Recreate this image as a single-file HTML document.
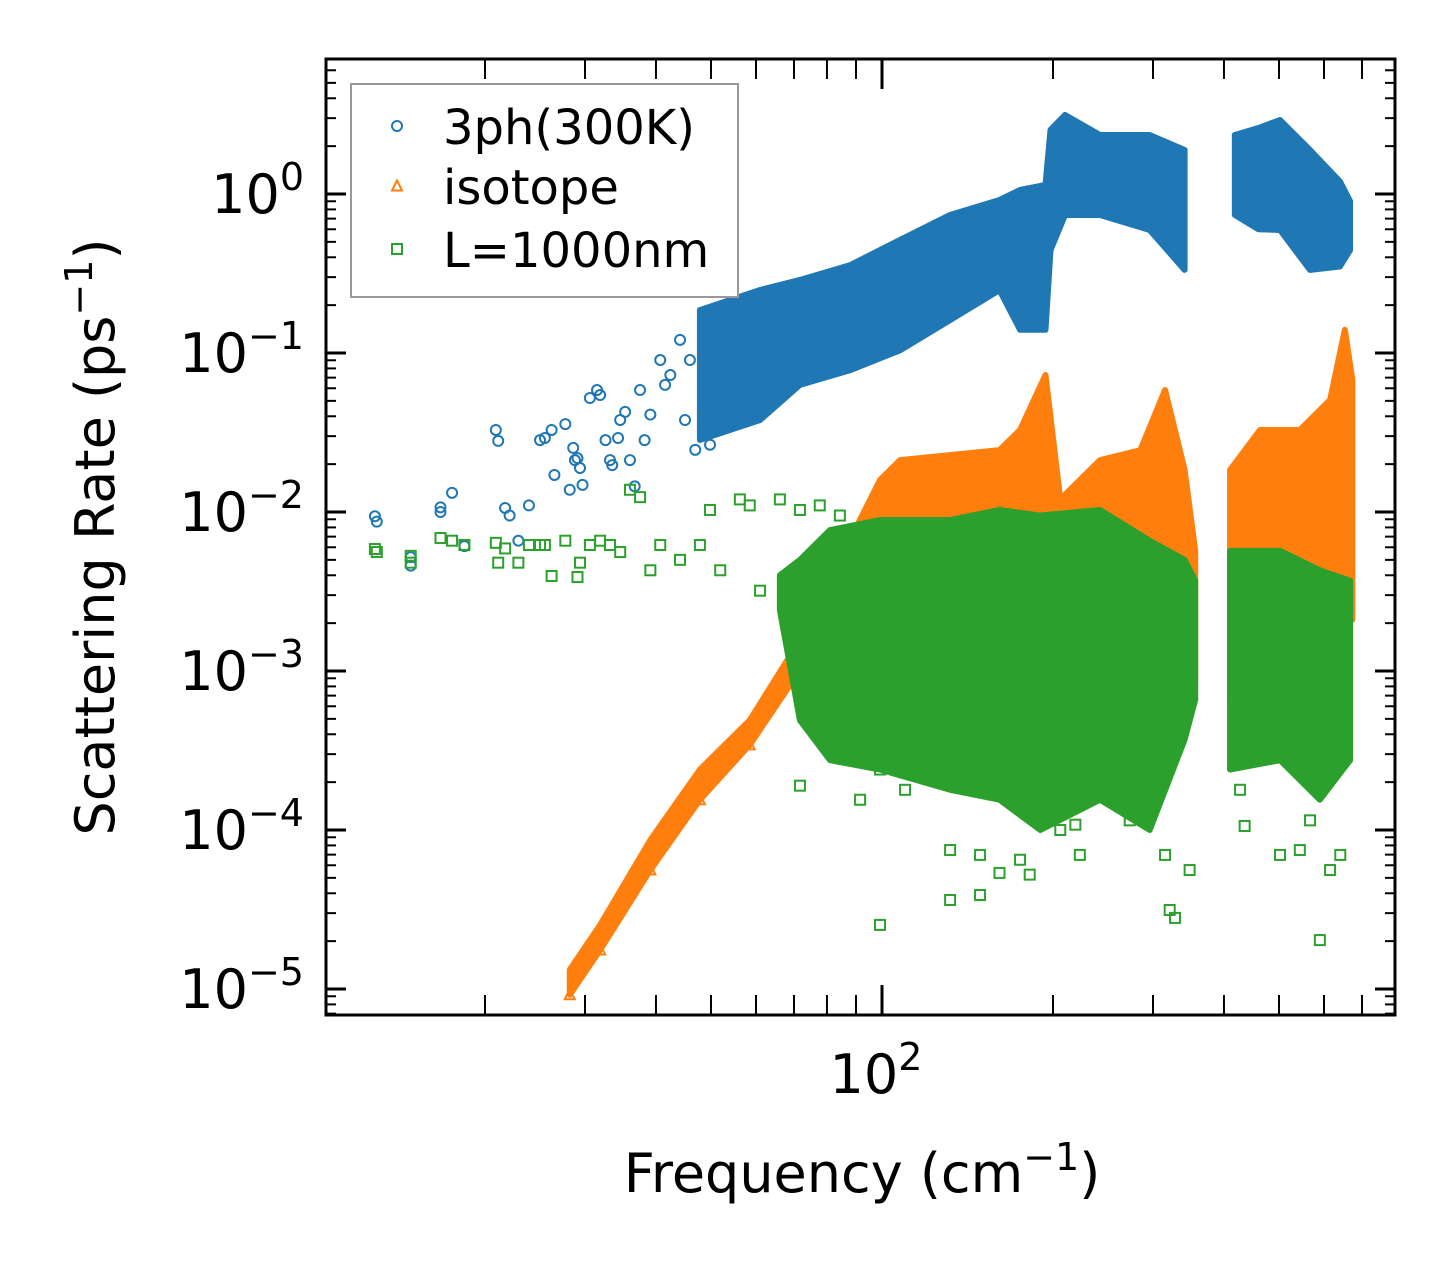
<!DOCTYPE html>
<html><head><meta charset="utf-8"><style>
body{margin:0;background:#fff}
svg text{font-family:"DejaVu Sans","Liberation Sans",sans-serif;fill:#000}
</style></head><body>
<svg id="chart" width="1455" height="1265" xmlns="http://www.w3.org/2000/svg">
<g id="plot"></g>
<g id="axes"></g>
</svg>
<script>
// ---- data (frequency cm^-1, rate ps^-1) ----
const blueSparseF=[12.8,12.9,14.8,14.8,16.7,16.7,17.5,18.4,20.9,21.1,21.7,22.1,22.9,23.9,25.0,25.5,26.2,26.5,27.7,28.2,28.6,28.8,29.1,29.4,29.7,30.6,31.5,31.9,32.6,33.2,33.5,34.3,34.6,35.3,36.0,36.7,37.5,38.2,39.1,40.7,41.5,42.4,44.1,45.0,45.9,46.9,49.8,50.8,51.9,54.0,56.2,61.0];
const blueSparseR=[0.0094,0.0087,0.0046,0.0052,0.0107,0.0100,0.0132,0.0061,0.0328,0.028,0.0106,0.0095,0.0066,0.0110,0.0283,0.0292,0.0328,0.0171,0.0357,0.0138,0.0253,0.0212,0.0218,0.0189,0.0148,0.0521,0.0585,0.0544,0.0283,0.0212,0.0197,0.0292,0.0379,0.0426,0.0212,0.0145,0.0585,0.0283,0.041,0.0903,0.063,0.0727,0.121,0.0379,0.0903,0.0246,0.0265,0.140,0.035,0.037,0.161,0.186];
const blueBandF=[47.8,61,71.7,87.9,107.6,131.8,161,175,194,198,210,242,296,341];
const blueBandHi=[0.186,0.249,0.288,0.357,0.514,0.738,0.917,1.06,1.14,2.53,3.14,2.35,2.35,1.89];
const blueBandLo=[0.0284,0.0379,0.063,0.078,0.104,0.161,0.249,0.14,0.14,0.444,0.738,0.738,0.594,0.333];
const blueBand2F=[418,460,502,567,640,667];
const blueBand2Hi=[2.35,2.6,2.92,1.89,1.2,0.9];
const blueBand2Lo=[0.738,0.6,0.594,0.333,0.35,0.444];
const orangeBandF=[28.2,31.9,39.1,47.8,58.5,71.7,81,89.6,99.2,107.6,131.8,161,175,194,206,242,285,315,341,356];
const orangeBandHi=[1.32e-5,2.53e-5,8.65e-5,2.4e-4,4.9e-4,1.57e-3,2.8e-3,0.0077,0.0159,0.0212,0.0228,0.0245,0.0328,0.0727,0.0120,0.0212,0.0245,0.0585,0.0184,0.0057];
const orangeBandLo=[9.2e-6,1.76e-5,5.6e-5,1.55e-4,3.43e-4,1.01e-3,1.57e-3,1.36e-3,1.36e-3,1.57e-3,1.57e-3,2.1e-3,1.57e-3,2.1e-3,1.57e-3,2.1e-3,1.57e-3,1.57e-3,1.17e-3,8.8e-4];
const orangeBand2F=[410,463,544,615,653,673];
const orangeBand2Hi=[0.0184,0.0328,0.0328,0.0506,0.140,0.068];
const orangeBand2Lo=[6.6e-4,2.1e-3,2.42e-3,2.8e-3,2.8e-3,2.1e-3];
const greenSparseF=[12.8,12.9,14.8,14.8,16.7,17.5,18.4,20.9,21.1,21.7,22.9,23.9,25.0,25.5,26.2,27.7,29.1,29.4,30.6,31.9,33.2,34.6,36.0,37.5,39.1,40.7,44.1,47.8,49.8,51.9,56.2,58.5,61.0,66.1,71.7,77.7,84.3,71.7,81,91.5,99.2,99.2,109.8,116.7,131.8,131.8,148.8,148.8,161,175,182,198,206,219,223,273,315,321,328,348,427,435,502,544,567,590,615,641];
const greenSparseR=[0.00585,0.0056,0.0053,0.0048,0.00686,0.0066,0.0062,0.0064,0.0048,0.0059,0.0048,0.0062,0.0062,0.0062,0.00396,0.0066,0.0039,0.0048,0.0062,0.0066,0.0062,0.0056,0.0138,0.0124,0.0043,0.0062,0.0050,0.0062,0.0103,0.0043,0.0120,0.011,0.0032,0.0120,0.0103,0.011,0.0095,0.00019,0.00040,0.000155,0.00024,0.0000253,0.000179,0.00024,0.0000748,0.0000363,0.000039,0.0000697,0.0000537,0.000065,0.0000524,0.000179,0.0001,0.000108,0.0000697,0.000115,0.0000697,0.0000314,0.000028,0.000056,0.000179,0.000106,0.0000697,0.0000748,0.000115,0.0000203,0.000056,0.0000697];
const greenBandF=[66.1,71.7,81,99.2,131.8,161,190,242,296,341,356];
const greenBandHi=[0.0040,0.0050,0.0077,0.0089,0.0089,0.0103,0.0095,0.0103,0.0066,0.0050,0.0037];
const greenBandLo=[0.00242,0.00049,0.000275,0.00024,0.000179,0.000155,0.0001,0.000155,0.0001,0.00037,0.00066];
const greenBand2F=[410,502,590,667];
const greenBand2Hi=[0.0057,0.0057,0.0043,0.0037];
const greenBand2Lo=[0.00024,0.000275,0.000155,0.000275];
const yTicks=[0,-1,-2,-3,-4,-5];
const xMinorTicks=[20,30,40,50,60,70,80,90,200,300,400,500,600,700];

// ---- axis functions ----
const L=326,R=1395,T=59,B=1015;
const xs=f=>882+568*Math.log10(f/100);
const ys=r=>194-159*Math.log10(r);
const NS="http://www.w3.org/2000/svg";
const plot=document.getElementById('plot'),axes=document.getElementById('axes');
function mk(tag,attrs,parent){const e=document.createElementNS(NS,tag);for(const k in attrs)e.setAttribute(k,attrs[k]);parent.appendChild(e);return e;}
const C={b:'#1f77b4',o:'#ff7f0e',g:'#2ca02c'};
function band(F,Hi,Lo,col,name){
  let pts=F.map((f,i)=>xs(f)+','+ys(Hi[i]));
  for(let i=F.length-1;i>=0;i--)pts.push(xs(F[i])+','+ys(Lo[i]));
  const p=mk('polygon',{points:pts.join(' '),fill:col,stroke:col,'stroke-width':6,'stroke-linejoin':'round'},plot);
  
  
}
function circ(x,y,col,parent){return mk('circle',{cx:x,cy:y,r:5,fill:'none',stroke:col,'stroke-width':2},parent);}
function sq(x,y,col,parent){return mk('rect',{x:x-5,y:y-5,width:10,height:10,fill:'none',stroke:col,'stroke-width':2},parent);}
function tri(x,y,col,parent){return mk('polygon',{points:`${x},${y-5.5} ${x-5},${y+4.5} ${x+5},${y+4.5}`,fill:'none',stroke:col,'stroke-width':2},parent);}

band(blueBandF,blueBandHi,blueBandLo,C.b,'band-3ph-low');
band(blueBand2F,blueBand2Hi,blueBand2Lo,C.b,'band-3ph-high');
blueSparseF.forEach((f,i)=>{const e=circ(xs(f),ys(blueSparseR[i]),C.b,plot);

});
band(orangeBandF,orangeBandHi,orangeBandLo,C.o,'band-isotope-low');
band(orangeBand2F,orangeBand2Hi,orangeBand2Lo,C.o,'band-isotope-high');
orangeBandF.slice(0,6).forEach((f,i)=>{const e=tri(xs(f),ys(orangeBandLo[i]),C.o,plot);

});
band(greenBandF,greenBandHi,greenBandLo,C.g,'band-boundary-low');
band(greenBand2F,greenBand2Hi,greenBand2Lo,C.g,'band-boundary-high');
greenSparseF.forEach((f,i)=>{const e=sq(xs(f),ys(greenSparseR[i]),C.g,plot);

});

// ---- axes ----
const frame=mk('rect',{x:L,y:T,width:R-L,height:B-T,fill:'none',stroke:'#000','stroke-width':3},axes);


function tick(x1,y1,x2,y2,w){mk('line',{x1,y1,x2,y2,stroke:'#000','stroke-width':w},axes);}
for(let d=-6;d<=1;d++){for(let m=1;m<10;m++){const v=m*Math.pow(10,d);const y=ys(v);if(y<T+1||y>B-1)continue;
 const len=m===1?20:10;tick(L,y,L+len,y,m===1?3:2);tick(R,y,R-len,y,m===1?3:2);}}
xMinorTicks.forEach(f=>{const x=xs(f);tick(x,B,x,B-20,2);tick(x,T,x,T+20,2);});
tick(xs(100),B,xs(100),B-30,3);tick(xs(100),T,xs(100),T+30,3);
yTicks.forEach(p=>{const t=mk('text',{x:304,y:ys(Math.pow(10,p))+19,'text-anchor':'end','font-size':54},axes);
 t.innerHTML='10<tspan dy="-23" font-size="38">'+(p===0?'0':'\u2212'+(-p))+'</tspan>';
 
 });
const xl=mk('text',{x:xs(100)-6,y:1093,'text-anchor':'middle','font-size':54},axes);
xl.innerHTML='10<tspan dy="-23" font-size="38">2</tspan>';


const xt=mk('text',{x:862,y:1192,'text-anchor':'middle','font-size':54},axes);
xt.innerHTML='Frequency (cm<tspan dy="-22" font-size="38">\u22121</tspan><tspan dy="22">)</tspan>';


const yt=mk('text',{x:0,y:0,'text-anchor':'middle','font-size':54,transform:'translate(114,537) rotate(-90)'},axes);
yt.innerHTML='Scattering Rate (ps<tspan dy="-22" font-size="38">\u22121</tspan><tspan dy="22">)</tspan>';



// ---- legend ----
const lg=mk('g',{},axes);


mk('rect',{x:351,y:84,width:387,height:213,fill:'#fff',stroke:'#999','stroke-width':2},lg);
const labels=['3ph(300K)','isotope','L=1000nm'];
const ly=[130,190,253];
[circ,tri,sq].forEach((fn,i)=>{fn(397,ly[i]-4,[C.b,C.o,C.g][i],lg);
 const t=mk('text',{x:443,y:ly[i]+14,'font-size':48},lg);t.textContent=labels[i];
 
 });
</script>
</body></html>
